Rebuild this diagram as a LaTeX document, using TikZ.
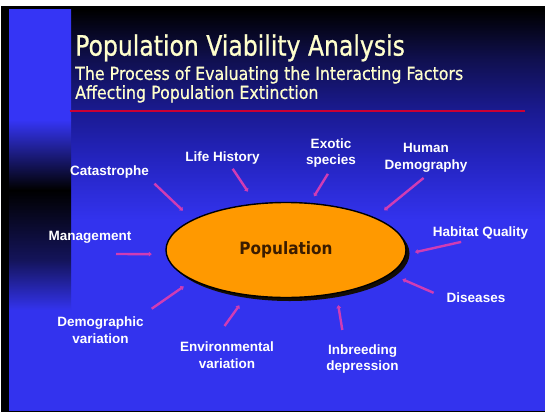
\documentclass[tikz,border=0pt]{standalone}
\usepackage{fontspec}
\usepackage{xcolor}
\usepackage{tikz}
\usetikzlibrary{shapes.geometric, arrows.meta, shadows}
\setmainfont{Liberation Sans}
\newfontfamily\titlesans[FakeStretch=0.84, FakeBold=0.8]{DejaVu Sans}
\newfontfamily\subsans[FakeStretch=0.88, FakeBold=0.6]{DejaVu Sans}
\newfontfamily\popsans[FakeStretch=0.9]{DejaVu Sans}
\newfontfamily\labelsans{Liberation Sans}
\newcommand\factorfont{\labelsans\bfseries\fontsize{13.5}{16.5}\selectfont}
\definecolor{slideblue}{HTML}{3333EE}
\definecolor{barblue}{HTML}{3535F5}
\definecolor{navyA}{HTML}{2424C0}
\definecolor{navyB}{HTML}{1A1A90}
\definecolor{navyC}{HTML}{101050}
\definecolor{bardark}{HTML}{14145A}
\definecolor{titlecol}{HTML}{FFFFCC}
\definecolor{rulecol}{HTML}{CC0033}
\definecolor{spokecol}{HTML}{D03CB4}
\definecolor{popfill}{HTML}{FF9900}
\definecolor{poptext}{HTML}{3A1C00}
\pgfdeclareverticalshading{slideshade}{100bp}{color(0bp)=(slideblue); color(48.75bp)=(slideblue);
  color(56.25bp)=(navyA); color(62.5bp)=(navyB); color(68.75bp)=(navyC); color(75bp)=(black); color(100bp)=(black)}
\pgfdeclareverticalshading{barshade}{100bp}{color(0bp)=(slideblue); color(37.5bp)=(slideblue);
  color(43.75bp)=(bardark); color(52.5bp)=(black); color(61.25bp)=(barblue); color(100bp)=(barblue)}
\tikzset{
    titletext/.style={font=\titlesans\fontsize{28}{30}\selectfont, text=titlecol, inner sep=0pt},
    subtext/.style={font=\subsans\fontsize{18}{19}\selectfont, text=titlecol, align=left, inner sep=0pt},
    popnode/.style={ellipse, draw=black, line width=1.4pt, fill=popfill, minimum width=240pt,
                    minimum height=95pt, inner sep=0pt, text=poptext,
                    font=\popsans\bfseries\fontsize{17}{19}\selectfont,
                    drop shadow={shadow xshift=3.5pt, shadow yshift=-3.5pt, fill=black!90!brown, opacity=1}},
    factor/.style={font=\factorfont, text=white, align=center, inner sep=1pt},
    spokearr/.style={-{Triangle[length=3pt, width=4.8pt]}, line width=2.4pt, color=spokecol},
}
\begin{document}
\begin{tikzpicture}[x=1pt, y=-1pt]
  \useasboundingbox (0,0) rectangle (545,412);

  % slide frame and backdrop
  \fill[white] (0,0) rectangle (545,412);
  \fill[black] (1,6) rectangle (545,412);
  \shade[shading=slideshade] (9,10) rectangle (545,410);
  \shade[shading=barshade] (9,10) rectangle (71,410);

  % heading
  \node[titletext, anchor=base west] (title) at (75,55.6) {Population Viability Analysis};
  \node[subtext, anchor=north west] (sub) at (75,66)
        {The Process of Evaluating the Interacting Factors\\Affecting Population Extinction};
  \draw[rulecol, line width=2pt] (69.5,111) -- (525,111);

  \node[popnode] (pop) at (286,250) {Population};

  % factors round the ellipse
  \node[factor] (cat) at (109.5,172) {Catastrophe};
  \node[factor] (life) at (222.5,158) {Life History};
  \node[factor] (exo) at (331,153) {Exotic\\species};
  \node[factor] (hum) at (426,158) {Human\\Demography};
  \node[factor] (hab) at (480.5,233) {Habitat Quality};
  \node[factor] (man) at (90,237) {Management};
  \node[factor] (dis) at (476,298) {Diseases};
  \node[factor] (dem) at (100.5,330) {Demographic\\variation};
  \node[factor] (env) at (227,355) {Environmental\\variation};
  \node[factor] (inb) at (362.5,359) {Inbreeding\\depression};

  \draw[spokearr, shorten <=6pt, shorten >=13pt] (cat.south east) -- (pop.162);
  \draw[spokearr, shorten <=4pt, shorten >=14pt] ([xshift=8pt]life.south) -- (pop.123);
  \draw[spokearr, shorten <=6pt, shorten >=7.5pt] (exo.south) -- (pop.63);
  \draw[spokearr, shorten <=7pt, shorten >=11.5pt] ([xshift=3pt]hum.south) -- (pop.20);
  \draw[spokearr, shorten <=6.5pt, shorten >=9pt] ([xshift=-13pt]hab.south) -- (pop.-2.4);
  \draw[spokearr, shorten >=14pt] ([xshift=26pt, yshift=-17pt]man.center) -- (pop.182);
  \draw[spokearr, shorten <=13pt, shorten >=13pt] (dis.west) -- (pop.-13.7);
  \draw[spokearr, shorten <=12pt, shorten >=10.5pt] ([xshift=-3pt]dem.north east) -- (pop.198);
  \draw[spokearr, shorten <=18pt, shorten >=12pt] ([xshift=-13pt]env.north) -- (pop.229.5);
  \draw[spokearr, shorten <=13.5pt, shorten >=11.5pt] ([xshift=-18pt]inb.north) -- (pop.-41);

\end{tikzpicture}
\end{document}
